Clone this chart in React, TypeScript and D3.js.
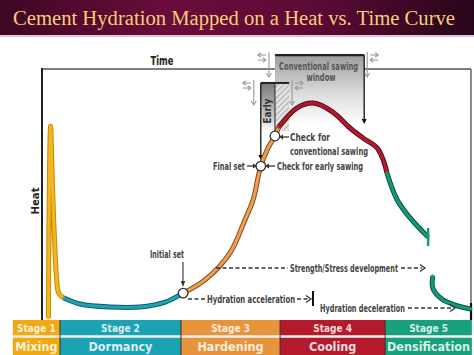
import React from 'react';
import * as d3 from 'd3';

const W = 474;
const H = 355;

// ---- data (time % , heat %) ----
const stageNames = ['Stage 1', 'Stage 2', 'Stage 3', 'Stage 4', 'Stage 5'];
const stagePhases = ['Mixing', 'Dormancy', 'Hardening', 'Cooling', 'Densification'];
const stageBounds = [-6.8, 4.2, 32.4, 55.5, 80.0, 100.2];
const stageColors = ['#f0a912', '#1ba2b3', '#e8943c', '#b41a2b', '#16a07c'];

const mixing: [number, number][] = [[1.5, 0], [1.6, 30], [1.75, 60], [2.0, 77], [2.3, 62], [2.6, 45], [3.0, 28], [3.4, 16], [3.9, 10], [5.1, 8]];
const dormancy: [number, number][] = [[5.1, 8], [8.9, 5.6], [15.9, 4.4], [22.8, 4.4], [28.7, 6.4], [32.9, 10]];
const hardening: [number, number][] = [[32.9, 10], [38, 15.3], [43.8, 26.1], [47.3, 39.4], [49.2, 47.4], [51, 61], [52.7, 68.3], [54.3, 73.1], [55.2, 76.7]];
const cooling: [number, number][] = [[55.2, 76.7], [59.4, 84.3], [63.2, 86.3], [67.8, 82.7], [71.8, 76.3], [74.8, 72.3], [78.1, 68.3], [79.7, 62.7], [80.4, 58.2]];
const densificationA: [number, number][] = [[80.4, 58.2], [82.8, 47.4], [85.8, 40.2], [90, 32.5]];
const densificationB: [number, number][] = [[91.1, 16.9], [91.1, 12], [93.2, 7.6], [96.3, 5.2], [100, 3.6]];

const initialSet: [number, number] = [32.9, 10];
const finalSet: [number, number] = [51, 61];
const checkConventional: [number, number] = [54.3, 73.1];

const earlyWindow = [51, 57.6, 94.4];
const convWindow = [54.3, 75.1, 105.6];

const segColors = [
  { c: '#f2b622', o: '#c98a00' },
  { c: '#1fa3b2', o: '#0b5d68' },
  { c: '#e8a057', o: '#8c4a12' },
  { c: '#b01a30', o: '#5e0a16' },
  { c: '#14997a', o: '#07543f' },
  { c: '#14997a', o: '#07543f' },
];

const ANN = "'Liberation Sans Narrow', 'DejaVu Sans Condensed', 'Arial Narrow', sans-serif";

export default function App() {
  const x = d3.scaleLinear().domain([0, 100]).range([42, 471]);
  const y = d3.scaleLinear().domain([0, 100]).range([318, 69]);
  const line = d3
    .line<[number, number]>()
    .x((d) => x(d[0]))
    .y((d) => y(d[1]))
    .curve(d3.curveCatmullRom.alpha(0.5));

  const segs = [mixing, dormancy, hardening, cooling, densificationA, densificationB];

  const gadget = (gx: number, gy: number, side: number, len: number, key: string) => {
    const hx0 = gx + side * 3;
    const hx1 = gx + side * 11;
    return (
      <g key={key} stroke="#9a9a9a" fill="#9a9a9a" strokeWidth={1.1}>
        <line x1={gx} y1={gy - 3} x2={gx} y2={gy + len} />
        <path d={`M${gx - 2.5},${gy + len - 4} L${gx},${gy + len} L${gx + 2.5},${gy + len - 4}`} fill="none" />
        <line x1={hx0} y1={gy} x2={hx1} y2={gy} />
        <path d={`M${hx1 - side * 3},${gy - 2.2} L${hx1},${gy} L${hx1 - side * 3},${gy + 2.2}`} fill="none" />
        <line x1={hx0} y1={gy + 5} x2={hx1} y2={gy + 5} />
        <path d={`M${hx0 + side * 3},${gy + 2.8} L${hx0},${gy + 5} L${hx0 + side * 3},${gy + 7.2}`} fill="none" />
      </g>
    );
  };

  const cx0 = x(convWindow[0]);
  const cx1 = x(convWindow[1]);
  const cTop = y(convWindow[2]);
  const ex0 = x(earlyWindow[0]);
  const ex1 = x(earlyWindow[1]);
  const eTop = y(earlyWindow[2]);

  return (
    <svg width={W} height={H} style={{ position: 'absolute', left: 0, top: 0, background: '#fff' }}>
      <defs>
        <linearGradient id="band" x1="0" x2="1" y1="0" y2="0">
          <stop offset="0" stopColor="#3e0723" />
          <stop offset="0.35" stopColor="#6a0c3c" />
          <stop offset="0.65" stopColor="#5e0a37" />
          <stop offset="1" stopColor="#26061a" />
        </linearGradient>
        <linearGradient id="convGrad" x1="0" x2="0" y1="0" y2="1">
          <stop offset="0" stopColor="#9c9c9c" />
          <stop offset="0.55" stopColor="#dcdcdc" />
          <stop offset="1" stopColor="#ffffff" />
        </linearGradient>
        <linearGradient id="earlyGrad" x1="0" x2="0" y1="0" y2="1">
          <stop offset="0" stopColor="#7a7a7a" />
          <stop offset="0.7" stopColor="#c8c8c8" />
          <stop offset="1" stopColor="#ffffff" />
        </linearGradient>
        <pattern id="hatch" width="4" height="4" patternUnits="userSpaceOnUse" patternTransform="rotate(45)">
          <rect width="4" height="4" fill="#e2e2e2" />
          <line x1="0" y1="0" x2="0" y2="4" stroke="#8a8a8a" strokeWidth="1.3" />
        </pattern>
      </defs>

      {/* Title band */}
      <rect x={0} y={0} width={W} height={35} fill="url(#band)" />
      <rect x={0} y={35} width={W} height={2} fill="#c9a3b8" opacity={0.6} />
      <text x={13} y={25} fontFamily="'Liberation Serif', 'Times New Roman', serif" fontSize={20.5} fill="#f6cf78" textLength={442} lengthAdjust="spacingAndGlyphs">
        Cement Hydration Mapped on a Heat vs. Time Curve
      </text>

      {/* axes frame */}
      <line x1={42} y1={69} x2={471} y2={69} stroke="#555" strokeWidth={1.5} />
      <line x1={471} y1={69} x2={471} y2={305} stroke="#666" strokeWidth={1.5} />
      <line x1={471} y1={303} x2={471} y2={320} stroke="#111" strokeWidth={2.2} />
      <line x1={42} y1={68} x2={42} y2={321} stroke="#222" strokeWidth={2} />
      <text x={162} y={65} textAnchor="middle" fontFamily={ANN} fontWeight="bold" fontSize={13} fill="#222" textLength={23} lengthAdjust="spacingAndGlyphs">Time</text>
      <text transform="translate(39,201) rotate(-90)" textAnchor="middle" fontFamily={ANN} fontWeight="bold" fontSize={11} fill="#222" textLength={27} lengthAdjust="spacingAndGlyphs">Heat</text>

      {/* conventional sawing window */}
      <rect x={cx0} y={cTop} width={cx1 - cx0} height={70} fill="url(#convGrad)" />
      <line x1={cx0} y1={cTop} x2={cx1} y2={cTop} stroke="#222" strokeWidth={2.2} />
      <line x1={cx1} y1={cTop} x2={cx1} y2={121} stroke="#111" strokeWidth={1.3} />
      <path d={`M${cx1 - 2.5},${119} L${cx1},${124} L${cx1 + 2.5},${119} Z`} fill="#111" />
      <text x={(cx0 + cx1) / 2 - 1} y={69.5} textAnchor="middle" fontFamily={ANN} fontWeight="bold" fontSize={10} fill="#555" textLength={79} lengthAdjust="spacingAndGlyphs">Conventional sawing</text>
      <text x={321} y={81} textAnchor="middle" fontFamily={ANN} fontWeight="bold" fontSize={10} fill="#555" textLength={29} lengthAdjust="spacingAndGlyphs">window</text>

      {/* early window */}
      <rect x={ex0} y={eTop} width={cx0 - ex0} height={48} fill="url(#earlyGrad)" />
      <rect x={cx0} y={eTop} width={ex1 - cx0} height={48} fill="url(#hatch)" opacity={0.9} />
      <line x1={ex0} y1={eTop} x2={ex1} y2={eTop} stroke="#222" strokeWidth={2} />
      <line x1={cx0} y1={eTop} x2={cx0} y2={135} stroke="#333" strokeWidth={1.1} />
      <line x1={ex0} y1={eTop} x2={ex0} y2={157} stroke="#111" strokeWidth={1.3} />
      <path d={`M${ex0 - 2.5},${155} L${ex0},${160} L${ex0 + 2.5},${155} Z`} fill="#111" />
      <text transform={`translate(${(ex0 + cx0) / 2 + 3.5},111) rotate(-90)`} textAnchor="middle" fontFamily={ANN} fontWeight="bold" fontSize={10} fill="#333" textLength={25} lengthAdjust="spacingAndGlyphs">Early</text>

      {gadget(cx0 - 6, 55, -1, 22, 'g1')}
      {gadget(cx1 + 3, 55, 1, 22, 'g2')}
      {gadget(ex0 - 7, 83, -1, 22, 'g3')}
      {gadget(ex1 + 3, 83, 1, 22, 'g4')}

      {/* curve */}
      {segs.map((s, i) => (
        <path key={'o' + i} d={line(s) || ''} fill="none" stroke={segColors[i].o} strokeWidth={5} strokeLinecap="butt" />
      ))}
      {segs.map((s, i) => (
        <path key={'c' + i} d={line(s) || ''} fill="none" stroke={segColors[i].c} strokeWidth={3} strokeLinecap="round" />
      ))}
      <line x1={x(90)} y1={y(32.5) - 9} x2={x(90)} y2={y(32.5) + 9} stroke="#14997a" strokeWidth={2.5} />
      <line x1={x(91.1)} y1={y(16.9)} x2={x(91.1)} y2={y(16.9) + 4} stroke="#14997a" strokeWidth={2.5} />

      {/* milestone circles */}
      {[initialSet, finalSet, checkConventional].map((p, i) => (
        <circle key={'m' + i} cx={x(p[0])} cy={y(p[1])} r={4.8} fill="#fff" stroke="#333" strokeWidth={1.3} />
      ))}

      {/* annotations */}
      <g fontFamily={ANN} fontWeight="bold" fontSize={11} fill="#444">
        <text x={245} y={170} textAnchor="end" textLength={32} lengthAdjust="spacingAndGlyphs">Final set</text>
        <line x1={247} y1={166} x2={254} y2={166} stroke="#333" strokeWidth={1.3} />
        <path d="M253,163.5 L257,166 L253,168.5 Z" fill="#333" />
        <line x1={268} y1={166} x2={275} y2={166} stroke="#333" strokeWidth={1.3} />
        <path d="M269,163.5 L265,166 L269,168.5 Z" fill="#333" />
        <text x={277} y={170} textLength={86} lengthAdjust="spacingAndGlyphs">Check for early sawing</text>

        <line x1={282} y1={137} x2={289} y2={137} stroke="#333" strokeWidth={1.3} />
        <path d="M283,134.5 L279,137 L283,139.5 Z" fill="#333" />
        <text x={290} y={141} textLength={40} lengthAdjust="spacingAndGlyphs">Check for</text>
        <text x={290} y={155} textLength={78} lengthAdjust="spacingAndGlyphs">conventional sawing</text>

        <text x={167} y={258} textAnchor="middle" textLength={34} lengthAdjust="spacingAndGlyphs">Initial set</text>
        <line x1={183} y1={262} x2={183} y2={283} stroke="#333" strokeWidth={1.1} />
        <path d="M180.8,281 L183,287 L185.2,281 Z" fill="#333" />

        <line x1={216} y1={268} x2={288} y2={268} stroke="#333" strokeWidth={1.3} strokeDasharray="4 2.5" />
        <text x={290} y={272} textLength={108} lengthAdjust="spacingAndGlyphs">Strength/Stress development</text>
        <line x1={401} y1={268} x2={422} y2={268} stroke="#333" strokeWidth={1.3} strokeDasharray="4 2.5" />
        <path d="M420,264.5 L425,268 L420,271.5" fill="none" stroke="#333" strokeWidth={1.3} />

        <line x1={188} y1={299} x2={205} y2={299} stroke="#333" strokeWidth={1.3} strokeDasharray="4 2.5" />
        <text x={207} y={303} textLength={88} lengthAdjust="spacingAndGlyphs">Hydration acceleration</text>
        <line x1={297} y1={299} x2={310} y2={299} stroke="#333" strokeWidth={1.3} strokeDasharray="4 2.5" />
        <path d="M306,295.5 L311,299 L306,302.5" fill="none" stroke="#333" strokeWidth={1.3} />
        <line x1={313} y1={291} x2={313} y2={306} stroke="#111" strokeWidth={2} />

        <text x={320} y={312} textLength={85} lengthAdjust="spacingAndGlyphs">Hydration deceleration</text>
        <line x1={408} y1={308} x2={453} y2={308} stroke="#333" strokeWidth={1.3} strokeDasharray="4 2.5" />
        <path d="M450,304.5 L455,308 L450,311.5" fill="none" stroke="#333" strokeWidth={1.3} />
      </g>

      {/* stage bar */}
      {stageNames.map((s, i) => {
        const a = x(stageBounds[i]);
        const b = x(stageBounds[i + 1]);
        return (
          <g key={'s' + i}>
            <rect x={a} y={320} width={b - a} height={15.5} fill={stageColors[i]} />
            <rect x={a} y={337.5} width={b - a} height={17.5} fill={stageColors[i]} />
            <text x={(a + b) / 2} y={331.5} textAnchor="middle" fontFamily={ANN} fontWeight="bold" fontSize={10} fill="#fff" fillOpacity={0.85}>{s}</text>
            <text x={(a + b) / 2} y={351} textAnchor="middle" fontFamily={ANN} fontWeight="bold" fontSize={12.5} fill="#fff" fillOpacity={0.85}>{stagePhases[i]}</text>
          </g>
        );
      })}
      <rect x={x(stageBounds[0])} y={335.5} width={x(stageBounds[5]) - x(stageBounds[0])} height={2} fill="#f2eeee" />
      {stageBounds.slice(1, 5).map((v, i) => (
        <line key={'sep' + i} x1={x(v)} y1={320} x2={x(v)} y2={355} stroke="#3a2a20" strokeWidth={1.2} opacity={0.8} />
      ))}
    </svg>
  );
}
